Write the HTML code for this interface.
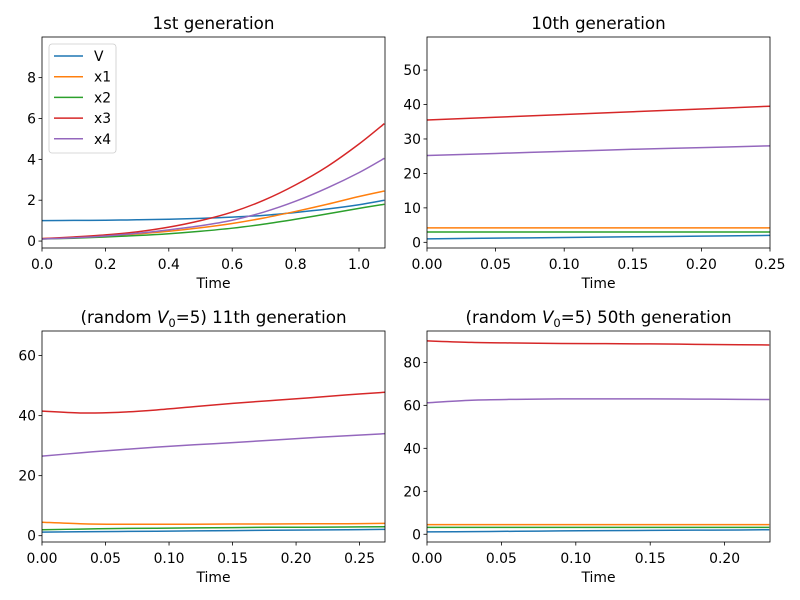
<!DOCTYPE html>
<html><head><meta charset="utf-8"><style>
body{margin:0;background:#fff}
svg{display:block;font-family:"DejaVu Sans","Liberation Sans",sans-serif}
</style></head><body>
<svg id="fig" width="800" height="600" viewBox="0 0 800 600"></svg>
<script>
const colors=["#1f77b4","#ff7f0e","#2ca02c","#d62728","#9467bd"];
const seriesNames=["V","x1","x2","x3","x4"];
// Panel 1
const t1=[0,0.1,0.2,0.3,0.4,0.5,0.6,0.7,0.8,0.9,1.0,1.08];
const p1V=[1.0,1.01,1.02,1.04,1.07,1.11,1.17,1.26,1.4,1.57,1.78,2.0];
const p1x1=[0.12,0.17,0.25,0.35,0.48,0.65,0.86,1.13,1.45,1.8,2.18,2.45];
const p1x2=[0.1,0.14,0.2,0.27,0.36,0.48,0.63,0.83,1.07,1.33,1.6,1.8];
const p1x3=[0.12,0.2,0.3,0.45,0.68,1.0,1.42,2.0,2.75,3.65,4.75,5.75];
const p1x4=[0.1,0.16,0.25,0.38,0.55,0.75,1.02,1.42,1.95,2.6,3.35,4.05];
const p1xt=["0.0","0.2","0.4","0.6","0.8","1.0"];
const p1yt=["0","2","4","6","8"];
// Panel 2
const t2=[0,0.05,0.1,0.15,0.2,0.25];
const p2V=[1.0,1.2,1.4,1.6,1.8,2.0];
const p2x1=[4.2,4.2,4.2,4.2,4.2,4.2];
const p2x2=[3.0,3.0,3.0,3.0,3.0,3.0];
const p2x3=[35.5,36.3,37.1,37.9,38.7,39.5];
const p2x4=[25.2,25.8,26.4,27.0,27.5,28.0];
const p2xt=["0.00","0.05","0.10","0.15","0.20","0.25"];
const p2yt=["0","10","20","30","40","50"];
// Panel 3
const t3=[0,0.03,0.06,0.09,0.12,0.15,0.18,0.21,0.24,0.27];
const p3V=[1.2,1.3,1.4,1.5,1.6,1.7,1.8,1.9,2.0,2.1];
const p3x1=[4.5,4.0,3.8,3.8,3.8,3.9,3.9,4.0,4.0,4.1];
const p3x2=[2.0,2.2,2.4,2.5,2.6,2.7,2.8,2.8,2.9,3.0];
const p3x3=[41.5,40.9,41.1,41.9,43.0,44.1,45.0,45.9,46.9,47.8];
const p3x4=[26.5,27.6,28.6,29.5,30.3,31.0,31.8,32.6,33.3,34.0];
const p3xt=["0.00","0.05","0.10","0.15","0.20","0.25"];
const p3yt=["0","20","40","60"];
// Panel 4
const t4=[0,0.03,0.06,0.09,0.12,0.15,0.18,0.21,0.23];
const p4V=[1.1,1.25,1.4,1.55,1.7,1.8,1.9,2.0,2.1];
const p4x1=[4.5,4.5,4.5,4.5,4.5,4.5,4.5,4.5,4.5];
const p4x2=[3.2,3.2,3.2,3.2,3.2,3.2,3.2,3.2,3.2];
const p4x3=[90,89.3,89.0,88.8,88.7,88.6,88.4,88.2,88.1];
const p4x4=[61.2,62.4,62.8,63.0,63.0,63.0,62.9,62.8,62.7];
const p4xt=["0.00","0.05","0.10","0.15","0.20"];
const p4yt=["0","20","40","60","80"];

const NS="http://www.w3.org/2000/svg";
const svg=document.getElementById("fig");
function mk(tag,attrs,parent,text){const e=document.createElementNS(NS,tag);for(const k in attrs)e.setAttribute(k,attrs[k]);if(text!==undefined)e.textContent=text;(parent||svg).appendChild(e);return e;}
function smooth(pts){
  let d="M"+pts[0][0].toFixed(2)+","+pts[0][1].toFixed(2);
  for(let i=0;i<pts.length-1;i++){
    const p0=pts[Math.max(0,i-1)],p1=pts[i],p2=pts[i+1],p3=pts[Math.min(pts.length-1,i+2)];
    const c1=[p1[0]+(p2[0]-p0[0])/6,p1[1]+(p2[1]-p0[1])/6];
    const c2=[p2[0]-(p3[0]-p1[0])/6,p2[1]-(p3[1]-p1[1])/6];
    d+="C"+c1.map(v=>v.toFixed(2)).join(",")+" "+c2.map(v=>v.toFixed(2)).join(",")+" "+p2[0].toFixed(2)+","+p2[1].toFixed(2);
  }
  return d;
}
function panel(id,box,xlim,ylim,t,series,xt,yt,title,legend){
  const g=mk("g",{});
  
  
  const [x0,y0,x1,y1]=box;
  const sx=v=>x0+(v-xlim[0])/(xlim[1]-xlim[0])*(x1-x0);
  const sy=v=>y1-(v-ylim[0])/(ylim[1]-ylim[0])*(y1-y0);
  const cp=id+"-clip";
  const cl=mk("clipPath",{id:cp},g);mk("rect",{x:x0,y:y0,width:x1-x0,height:y1-y0},cl);
  series.forEach((s,i)=>{
    const d=smooth(s.map((v,j)=>[sx(t[j]),sy(v)]));
    const p=mk("path",{d:d,fill:"none",stroke:colors[i],"stroke-width":1.5,"clip-path":"url(#"+cp+")"},g);
    
    
  });
  const fr=mk("rect",{x:x0,y:y0,width:x1-x0,height:y1-y0,fill:"none",stroke:"#000","stroke-width":0.8},g);
  
  
  xt.forEach(l=>{const x=sx(parseFloat(l));
    mk("line",{x1:x,x2:x,y1:y1,y2:y1+3.5,stroke:"#000","stroke-width":0.8},g);
    const tx=mk("text",{x:x,y:y1+21,"font-size":13.9,"text-anchor":"middle",fill:"#000"},g,l);
    
    
  });
  yt.forEach(l=>{const y=sy(parseFloat(l));
    mk("line",{x1:x0-3.5,x2:x0,y1:y,y2:y,stroke:"#000","stroke-width":0.8},g);
    const tx=mk("text",{x:x0-6,y:y+5,"font-size":13.9,"text-anchor":"end",fill:"#000"},g,l);
    
    
  });
  const xl=mk("text",{x:(x0+x1)/2,y:y1+40,"font-size":13.9,"text-anchor":"middle"},g,"Time");
  
  
  const ti=mk("text",{x:(x0+x1)/2,y:y0-8,"font-size":16.7,"text-anchor":"middle"},g);
  ti.innerHTML=title;
  
  
  if(legend){
    const lg=mk("g",{},g);
    
    
    mk("rect",{x:49,y:44,width:67,height:109,rx:3,fill:"#fff",stroke:"#ccc","stroke-width":0.8},lg);
    seriesNames.forEach((n,i)=>{const y=56+i*20.7;
      const le=mk("g",{},lg);
      
      
      mk("line",{x1:54,x2:83,y1:y,y2:y,stroke:colors[i],"stroke-width":1.5},le);
      mk("text",{x:94,y:y+5,"font-size":13.9},le,n);
    });
  }
}
panel("panel-1st",[42,37,385,248],[0,1.082],[-0.34,9.99],t1,[p1V,p1x1,p1x2,p1x3,p1x4],p1xt,p1yt,"1st generation",true);
panel("panel-10th",[427,37,770,248],[0,0.25],[-1.65,59.6],t2,[p2V,p2x1,p2x2,p2x3,p2x4],p2xt,p2yt,"10th generation",false);
panel("panel-11th",[42,331,385,542],[0,0.27],[-2.1,68.2],t3,[p3V,p3x1,p3x2,p3x3,p3x4],p3xt,p3yt,'(random <tspan font-style="italic">V</tspan><tspan font-size="11.5" dy="4">0</tspan><tspan dy="-4">=5) 11th generation</tspan>',false);
panel("panel-50th",[427,331,770,542],[0,0.2305],[-3.6,94.6],t4,[p4V,p4x1,p4x2,p4x3,p4x4],p4xt,p4yt,'(random <tspan font-style="italic">V</tspan><tspan font-size="11.5" dy="4">0</tspan><tspan dy="-4">=5) 50th generation</tspan>',false);
</script>
</body></html>
